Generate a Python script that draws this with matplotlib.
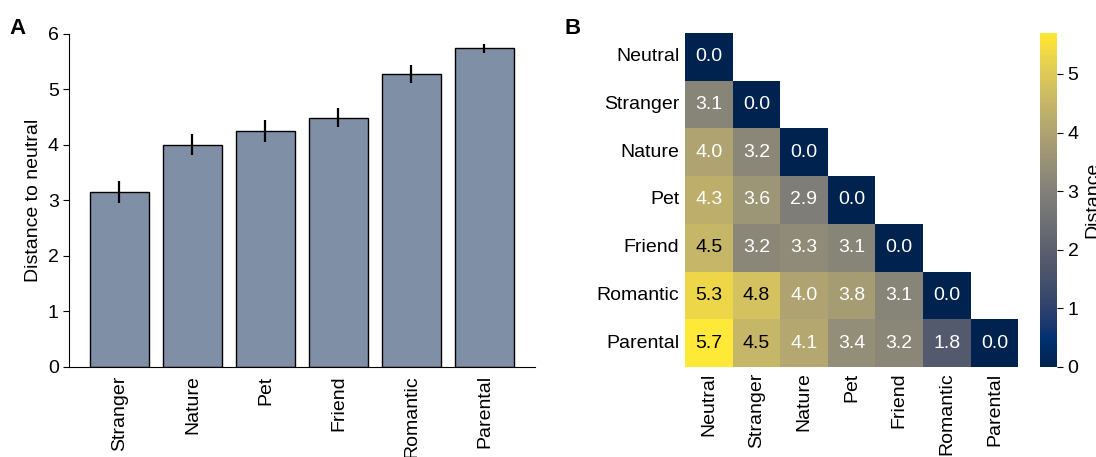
import numpy as np
import matplotlib
matplotlib.use('Agg')
import matplotlib.pyplot as plt
import seaborn as sns

plt.rcParams['font.family'] = ['Liberation Sans', 'DejaVu Sans']
plt.rcParams['font.size'] = 14

# panel A: distance to neutral
bar_labels = ['Stranger', 'Nature', 'Pet', 'Friend', 'Romantic', 'Parental']
bar_values = [3.15, 4.00, 4.25, 4.49, 5.27, 5.74]
bar_errors = [0.20, 0.19, 0.19, 0.17, 0.16, 0.08]

# panel B: pairwise distances (lower triangle)
cats = ['Neutral', 'Stranger', 'Nature', 'Pet', 'Friend', 'Romantic', 'Parental']
dist_rows = [
    [0.0],
    [3.1, 0.0],
    [4.0, 3.2, 0.0],
    [4.3, 3.6, 2.9, 0.0],
    [4.5, 3.2, 3.3, 3.1, 0.0],
    [5.3, 4.8, 4.0, 3.8, 3.1, 0.0],
    [5.7, 4.5, 4.1, 3.4, 3.2, 1.8, 0.0],
]

n = len(cats)
dist = np.zeros((n, n))
for i, row in enumerate(dist_rows):
    dist[i, :len(row)] = row
mask = np.triu(np.ones((n, n), dtype=bool), k=1)

fig = plt.figure(figsize=(10.96, 4.57), dpi=100)

# --- A ---
ax1 = fig.add_axes([0.063, 0.197, 0.425, 0.729])
x = np.arange(len(bar_labels))
ax1.bar(x, bar_values, width=0.8, color='#7f8fa6', edgecolor='black', linewidth=1.0)
ax1.errorbar(x, bar_values, yerr=bar_errors, fmt='none', ecolor='black', elinewidth=1.6, capsize=0)
ax1.set_xticks(x)
ax1.set_xticklabels(bar_labels, rotation=90)
ax1.set_ylim(0, 6)
ax1.set_yticks(range(7))
ax1.set_ylabel('Distance to neutral')
ax1.spines['top'].set_visible(False)
ax1.spines['right'].set_visible(False)
ax1.tick_params(axis='x', length=0, pad=6)
ax1.tick_params(axis='y', length=4)
fig.text(0.009, 0.925, 'A', fontsize=16, fontweight='bold')

# --- B ---
ax2 = fig.add_axes([0.625, 0.197, 0.304, 0.731])
cax = fig.add_axes([0.949, 0.197, 0.0155, 0.731])
sns.heatmap(dist, mask=mask, cmap='cividis', vmin=0, vmax=dist.max(), annot=True, fmt='.1f',
            annot_kws={'fontsize': 14}, ax=ax2, cbar_ax=cax,
            xticklabels=cats, yticklabels=cats)
# dark text only on the brightest cells
for t in ax2.texts:
    t.set_color('black' if float(t.get_text()) >= 4.45 else 'white')
ax2.tick_params(length=0, pad=4)
ax2.set_xticklabels(cats, rotation=90)
ax2.set_yticklabels(cats, rotation=0)
cax.set_ylabel('Distance')
cax.tick_params(labelsize=14, length=4)
fig.text(0.515, 0.925, 'B', fontsize=16, fontweight='bold')

fig.savefig('out.png', dpi=100)
